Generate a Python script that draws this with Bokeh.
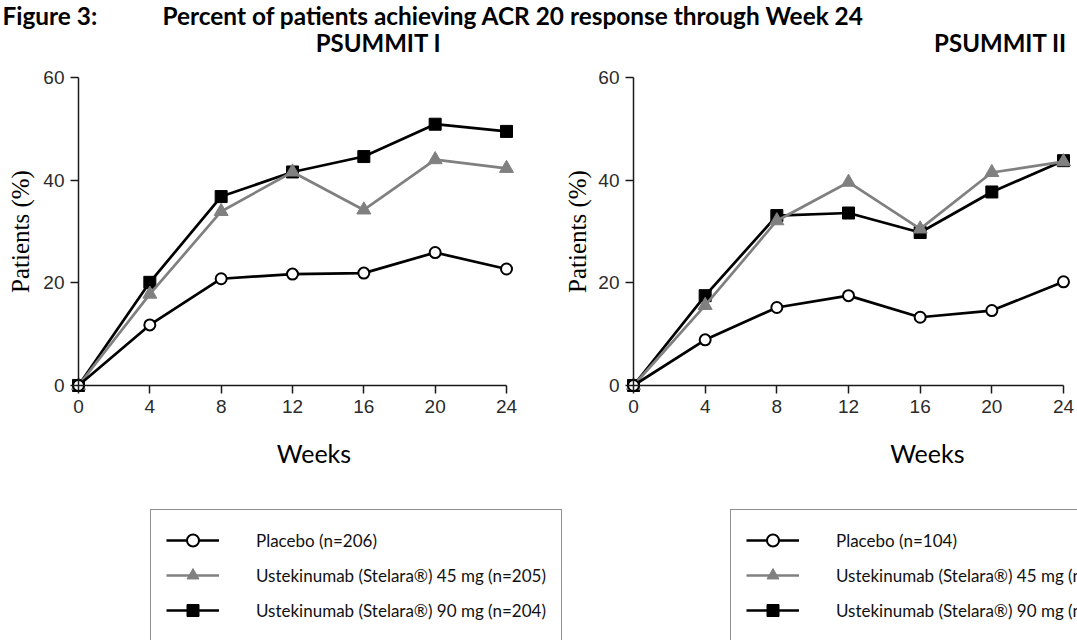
import math
from bokeh.plotting import figure
from bokeh.layouts import column, row
from bokeh.models import Range1d, Legend, LegendItem, Label, FixedTicker
from bokeh.embed import file_html
from bokeh.resources import INLINE
from bokeh.core.properties import value

# ---------------- data ----------------
weeks = [0, 4, 8, 12, 16, 20, 24]
y_ticks = [0, 20, 40, 60]

ps1_placebo = [0, 11.8, 20.8, 21.7, 21.9, 25.9, 22.7]
ps1_45mg = [0, 17.8, 33.9, 41.6, 34.2, 44.0, 42.3]
ps1_90mg = [0, 20.1, 36.8, 41.6, 44.6, 50.9, 49.5]

ps2_placebo = [0, 8.9, 15.2, 17.5, 13.3, 14.6, 20.2]
ps2_45mg = [0, 15.6, 32.1, 39.6, 30.5, 41.5, 43.6]
ps2_90mg = [0, 17.5, 33.1, 33.6, 29.8, 37.7, 43.8]

ps1_labels = ["Placebo (n=206)",
              "Ustekinumab (Stelara®) 45 mg (n=205)",
              "Ustekinumab (Stelara®) 90 mg (n=204)"]
ps2_labels = ["Placebo (n=104)",
              "Ustekinumab (Stelara®) 45 mg (n=103)",
              "Ustekinumab (Stelara®) 90 mg (n=105)"]

fig_title = "Figure 3:"
main_title = "Percent of patients achieving ACR 20 response through Week 24"
study_titles = ["PSUMMIT I", "PSUMMIT II"]
x_label = "Weeks"
y_label = "Patients (%)"

GRAY = "#808080"
INK = "#1a1a1a"

# ---------------- layout geometry (pixels) ----------------
HEADER_H = 60
CHART_H = 580
Y0_PX = 325      # y=0 position inside chart figure
Y60_PX = 17      # y=60 position inside chart figure
LEFT_W = 564
RIGHT_W = 1077 - LEFT_W


def chart(placebo, d45, d90, labels, width, x0_px, x24_px, legend_x, weeks_x, ylab_x):
    sx = (x24_px - x0_px) / 24.0
    sy = (Y0_PX - Y60_PX) / 60.0
    p = figure(width=width, height=CHART_H, output_backend="svg", toolbar_location=None,
               x_range=Range1d(-x0_px / sx, 24 + (width - x24_px) / sx),
               y_range=Range1d(-(CHART_H - Y0_PX) / sy, 60 + Y60_PX / sy),
               min_border=0)
    p.outline_line_color = None
    p.grid.visible = False
    p.background_fill_color = "white"
    p.border_fill_color = "white"

    l90 = p.line(weeks, d90, line_color="black", line_width=2.7)
    s90 = p.scatter(weeks, d90, marker="square", size=12, fill_color="black", line_color="black")
    l45 = p.line(weeks, d45, line_color=GRAY, line_width=2.7)
    s45 = p.scatter(weeks, d45, marker="triangle", size=14, fill_color=GRAY, line_color=GRAY)
    lp = p.line(weeks, placebo, line_color="black", line_width=2.7)
    sp = p.scatter(weeks, placebo, marker="circle", size=11, fill_color="white",
                   line_color="black", line_width=2)

    for ax in (p.xaxis[0], p.yaxis[0]):
        ax.fixed_location = 0
        ax.axis_line_color = INK
        ax.axis_line_width = 1.5
        ax.major_tick_line_color = INK
        ax.major_tick_line_width = 1.5
        ax.major_tick_out = 8
        ax.major_tick_in = 0
        ax.minor_tick_out = 0
        ax.minor_tick_in = 0
        ax.major_label_text_font = "Liberation Sans"
        ax.major_label_text_font_size = "19px"
        ax.major_label_text_color = "#2b2b2b"
        ax.major_label_standoff = 6
    p.xaxis[0].bounds = (0, 24)
    p.xaxis[0].ticker = FixedTicker(ticks=weeks)
    p.yaxis[0].bounds = (0, 60)
    p.yaxis[0].ticker = FixedTicker(ticks=y_ticks)

    p.add_layout(Label(x=ylab_x, y=30, text=y_label, angle=math.pi / 2,
                       text_font="Liberation Serif", text_font_size="25px",
                       text_align="center", text_baseline="middle", text_color="black"))
    p.add_layout(Label(x=weeks_x, y=-13.2, text=x_label, text_font="Lato",
                       text_font_size="25px", text_align="center",
                       text_baseline="middle", text_color="black"))

    legend = Legend(items=[LegendItem(label=labels[0], renderers=[lp, sp]),
                           LegendItem(label=labels[1], renderers=[l45, s45]),
                           LegendItem(label=labels[2], renderers=[l90, s90])],
                    location=(legend_x, -1), padding=15, spacing=5,
                    glyph_width=53, glyph_height=30, label_height=30,
                    label_standoff=37, label_text_font="Lato",
                    label_text_font_size="17px", label_text_color="#111111",
                    border_line_color="#222222", border_line_width=1.3,
                    background_fill_color="white", background_fill_alpha=1.0, margin=0)
    p.add_layout(legend)
    return p


# header
h = figure(width=1077, height=HEADER_H, output_backend="svg", toolbar_location=None,
           x_range=Range1d(0, 1077), y_range=Range1d(HEADER_H, 0),
           x_axis_type=None, y_axis_type=None, min_border=0)
h.outline_line_color = None
h.grid.visible = False
h.text(x=[2, 162], y=[15, 15], text=[fig_title, main_title],
       text_font=value("Lato"), text_font_style="bold", text_font_size="24.4px",
       text_baseline="middle", text_align="left", text_color="black")
h.text(x=[378, 1000], y=[42, 42], text=study_titles,
       text_font=value("Lato"), text_font_style="bold", text_font_size="24px",
       text_baseline="middle", text_align="center", text_color="black")

p1 = chart(ps1_placebo, ps1_45mg, ps1_90mg, ps1_labels, LEFT_W,
           78, 506, 150, 13.2, -3.25)
p2 = chart(ps2_placebo, ps2_45mg, ps2_90mg, ps2_labels, RIGHT_W,
           633 - LEFT_W, 1063 - LEFT_W, 730 - LEFT_W, 16.4, -3.1)

root = column(h, row(p1, p2))
open("out.html", "w").write(file_html(root, INLINE))
